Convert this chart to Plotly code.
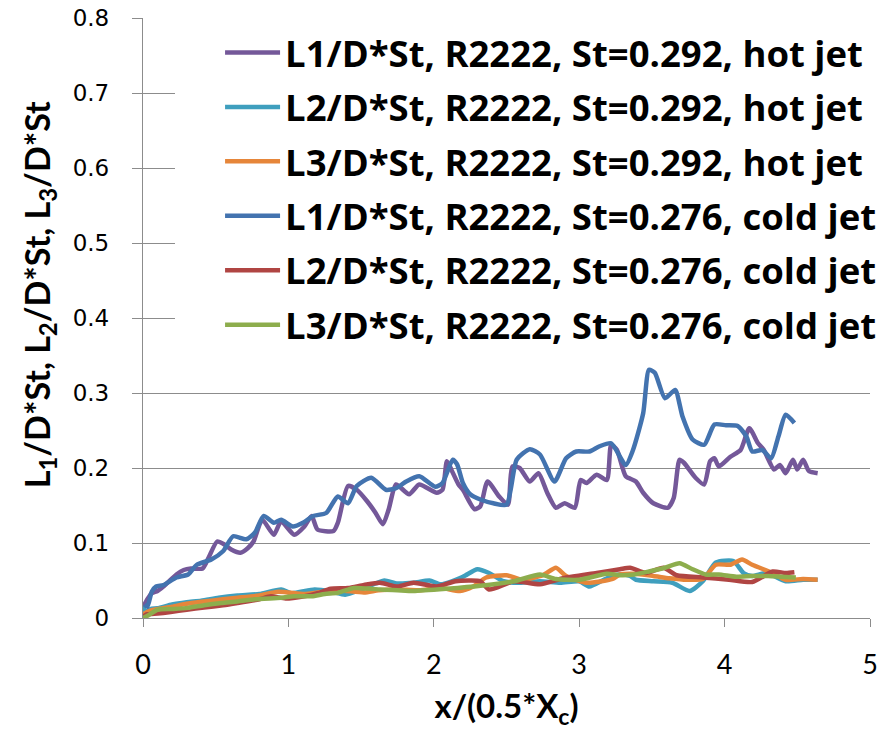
import plotly.graph_objects as go

# ---------------- data ----------------
x_hot_L1 = [0.00,0.03,0.06,0.10,0.14,0.23,0.28,0.33,0.41,0.45,0.51,0.56,0.61,0.67,0.72,0.76,0.82,0.90,0.95,1.04,
            1.11,1.16,1.20,1.31,1.34,1.41,1.47,1.54,1.60,1.65,1.69,1.74,1.83,1.90,2.02,2.06,2.09,2.12,2.17,2.20,
            2.28,2.32,2.37,2.45,2.51,2.54,2.59,2.66,2.72,2.78,2.84,2.90,2.97,3.01,3.05,3.12,3.19,3.22,3.26,3.32,
            3.39,3.44,3.51,3.61,3.65,3.69,3.72,3.80,3.86,3.90,3.93,3.96,4.04,4.11,4.17,4.23,4.27,4.34,4.38,4.42,
            4.47,4.50,4.54,4.58,4.64]
y_hot_L1 = [0.014,0.025,0.033,0.036,0.042,0.058,0.064,0.066,0.066,0.080,0.102,0.098,0.091,0.087,0.093,0.102,0.131,0.111,0.129,0.111,
            0.122,0.136,0.118,0.116,0.127,0.176,0.171,0.156,0.140,0.125,0.145,0.178,0.165,0.178,0.167,0.171,0.209,0.198,0.178,0.171,
            0.145,0.149,0.182,0.162,0.151,0.202,0.200,0.182,0.193,0.167,0.147,0.153,0.147,0.184,0.180,0.191,0.184,0.231,0.224,0.189,
            0.182,0.167,0.153,0.147,0.160,0.211,0.207,0.187,0.178,0.209,0.213,0.202,0.215,0.224,0.253,0.233,0.224,0.198,0.204,0.193,
            0.211,0.198,0.211,0.196,0.193]

x_hot_L2 = [0.00,0.02,0.05,0.10,0.20,0.30,0.40,0.52,0.65,0.80,0.95,1.02,1.18,1.30,1.39,1.50,1.60,1.66,1.75,1.86,
            1.97,2.05,2.20,2.30,2.38,2.48,2.59,2.73,2.87,3.00,3.07,3.19,3.28,3.35,3.39,3.51,3.64,3.76,3.85,3.94,
            4.06,4.13,4.19,4.29,4.42,4.54,4.64]
y_hot_L2 = [0.016,0.008,0.012,0.013,0.018,0.021,0.023,0.027,0.030,0.032,0.038,0.033,0.038,0.035,0.031,0.038,0.046,0.050,0.046,0.047,
            0.050,0.045,0.055,0.065,0.060,0.049,0.047,0.049,0.047,0.049,0.042,0.053,0.058,0.056,0.051,0.049,0.047,0.036,0.049,0.074,
            0.076,0.060,0.056,0.060,0.049,0.051,0.051]

x_hot_L3 = [0.00,0.05,0.10,0.20,0.30,0.42,0.55,0.65,0.80,0.93,1.11,1.20,1.34,1.52,1.62,1.75,1.90,2.05,2.18,2.27,
            2.36,2.50,2.61,2.75,2.84,2.91,3.05,3.23,3.28,3.38,3.51,3.62,3.74,3.85,3.94,4.04,4.12,4.19,4.33,4.42,
            4.54,4.64]
y_hot_L3 = [0.005,0.010,0.012,0.015,0.019,0.022,0.025,0.027,0.030,0.035,0.032,0.034,0.037,0.034,0.037,0.038,0.037,0.040,0.036,0.042,
            0.054,0.057,0.051,0.057,0.067,0.056,0.047,0.052,0.058,0.059,0.056,0.053,0.051,0.052,0.071,0.071,0.078,0.071,0.060,0.051,
            0.052,0.051]

x_cold_L1 = [0.01,0.03,0.06,0.09,0.14,0.23,0.31,0.37,0.47,0.55,0.62,0.71,0.77,0.83,0.90,0.95,1.03,1.10,1.17,1.26,
             1.34,1.41,1.47,1.57,1.67,1.74,1.81,1.90,2.01,2.06,2.13,2.16,2.20,2.25,2.32,2.41,2.50,2.57,2.66,2.73,
             2.83,2.91,2.98,3.07,3.14,3.22,3.32,3.37,3.44,3.48,3.52,3.59,3.66,3.71,3.78,3.86,3.93,4.01,4.09,4.15,
             4.19,4.26,4.32,4.37,4.42,4.48]
y_cold_L1 = [0.018,0.015,0.035,0.042,0.044,0.054,0.058,0.071,0.078,0.089,0.109,0.105,0.114,0.136,0.127,0.131,0.122,0.127,0.136,0.140,
             0.162,0.153,0.176,0.187,0.171,0.173,0.182,0.189,0.175,0.180,0.211,0.205,0.180,0.165,0.158,0.153,0.151,0.211,0.225,0.218,
             0.182,0.213,0.222,0.222,0.229,0.233,0.204,0.224,0.273,0.331,0.327,0.293,0.304,0.269,0.238,0.231,0.258,0.257,0.256,0.242,
             0.222,0.224,0.213,0.242,0.271,0.260]

x_cold_L2 = [0.00,0.03,0.10,0.19,0.30,0.42,0.55,0.65,0.80,0.88,0.98,1.11,1.20,1.29,1.41,1.52,1.63,1.75,1.86,2.02,
             2.15,2.32,2.38,2.55,2.73,2.89,3.12,3.28,3.35,3.46,3.58,3.67,3.85,4.03,4.19,4.33,4.42,4.48]
y_cold_L2 = [0.002,0.005,0.006,0.008,0.011,0.014,0.017,0.020,0.025,0.029,0.026,0.029,0.033,0.039,0.040,0.044,0.047,0.042,0.047,0.042,
             0.049,0.049,0.038,0.049,0.045,0.053,0.060,0.065,0.067,0.060,0.067,0.057,0.054,0.051,0.048,0.062,0.060,0.061]

x_cold_L3 = [0.00,0.04,0.10,0.20,0.31,0.42,0.54,0.65,0.77,0.95,1.04,1.16,1.25,1.34,1.45,1.57,1.63,1.75,1.86,2.09,
             2.32,2.55,2.73,2.84,3.00,3.19,3.28,3.38,3.48,3.59,3.69,3.78,3.87,3.96,4.08,4.19,4.30,4.49]
y_cold_L3 = [0.000,0.004,0.011,0.012,0.0135,0.017,0.020,0.022,0.025,0.027,0.029,0.029,0.032,0.0335,0.040,0.039,0.038,0.037,0.036,0.039,
             0.043,0.049,0.058,0.052,0.051,0.059,0.057,0.058,0.062,0.067,0.073,0.065,0.058,0.058,0.055,0.056,0.056,0.054]

series_names = [
    "L1/D*St, R2222, St=0.292, hot jet",
    "L2/D*St, R2222, St=0.292, hot jet",
    "L3/D*St, R2222, St=0.292, hot jet",
    "L1/D*St, R2222, St=0.276, cold jet",
    "L2/D*St, R2222, St=0.276, cold jet",
    "L3/D*St, R2222, St=0.276, cold jet",
]
series_x = [x_hot_L1, x_hot_L2, x_hot_L3, x_cold_L1, x_cold_L2, x_cold_L3]
series_y = [y_hot_L1, y_hot_L2, y_hot_L3, y_cold_L1, y_cold_L2, y_cold_L3]
series_colors = ["#745899", "#3F9FBE", "#E6863A", "#4373AF", "#B04543", "#8DAD4D"]

x_ticks = [0, 1, 2, 3, 4, 5]
y_ticks = [0, 0.1, 0.2, 0.3, 0.4, 0.5, 0.6, 0.7, 0.8]

GRID = "#8C8C8C"

fig = go.Figure()
for i, (name, xs, ys, col) in enumerate(zip(series_names, series_x, series_y, series_colors)):
    fig.add_trace(go.Scatter(
        x=xs, y=ys, mode="lines", name=name,
        line=dict(color=col, width=4.5, shape="spline", smoothing=0.6),
        legendgroup=f"g{i}",
    ))

fig.update_layout(
    width=885, height=731,
    margin=dict(l=143, r=15, t=18, b=113, autoexpand=False),
    paper_bgcolor="white", plot_bgcolor="white",
    showlegend=True,
    legend=dict(
        x=0.106, y=0.993, xanchor="left", yanchor="top",
        bgcolor="white", borderwidth=0,
        font=dict(family="Open Sans", size=36.5, color="black", weight="bold"),
        itemwidth=55, tracegroupgap=4,
    ),
    # white legend-area backdrop (hides gridlines like the reference's legend box)
    shapes=[dict(type="rect", xref="paper", yref="paper",
                 x0=0.044, x1=1.0, y0=0.438, y1=0.985,
                 fillcolor="white", line=dict(width=0), layer="above")],
    xaxis=dict(
        range=[0, 5], tickvals=x_ticks, ticks="outside", ticklen=8, tickwidth=1.3,
        tickcolor=GRID, showline=True, linecolor=GRID, linewidth=1.3,
        showgrid=False, zeroline=False,
        tickfont=dict(family="Lato", size=27, color="black"),
        ticklabelstandoff=14,
        title=dict(text="<b>x/(0.5*X<sub>c</sub>)</b>",
                   font=dict(family="Lato", size=33, color="black"), standoff=16),
    ),
    yaxis=dict(
        range=[0, 0.8], tickvals=y_ticks, ticks="outside", ticklen=10, tickwidth=1.3,
        tickcolor=GRID, showline=True, linecolor=GRID, linewidth=1.3,
        showgrid=True, gridcolor=GRID, gridwidth=1.3, zeroline=False,
        tickfont=dict(family="DejaVu Sans", size=23, color="black"),
        ticklabelstandoff=18,
    ),
    annotations=[dict(
        text="<b>L<sub>1</sub>/D*St, L<sub>2</sub>/D*St, L<sub>3</sub>/D*St</b>",
        xref="paper", yref="paper", x=-0.143, y=0.538, xanchor="center", yanchor="middle",
        textangle=-90, showarrow=False,
        font=dict(family="Lato", size=34, color="black"),
    )],
)

fig.write_html("out.html")
